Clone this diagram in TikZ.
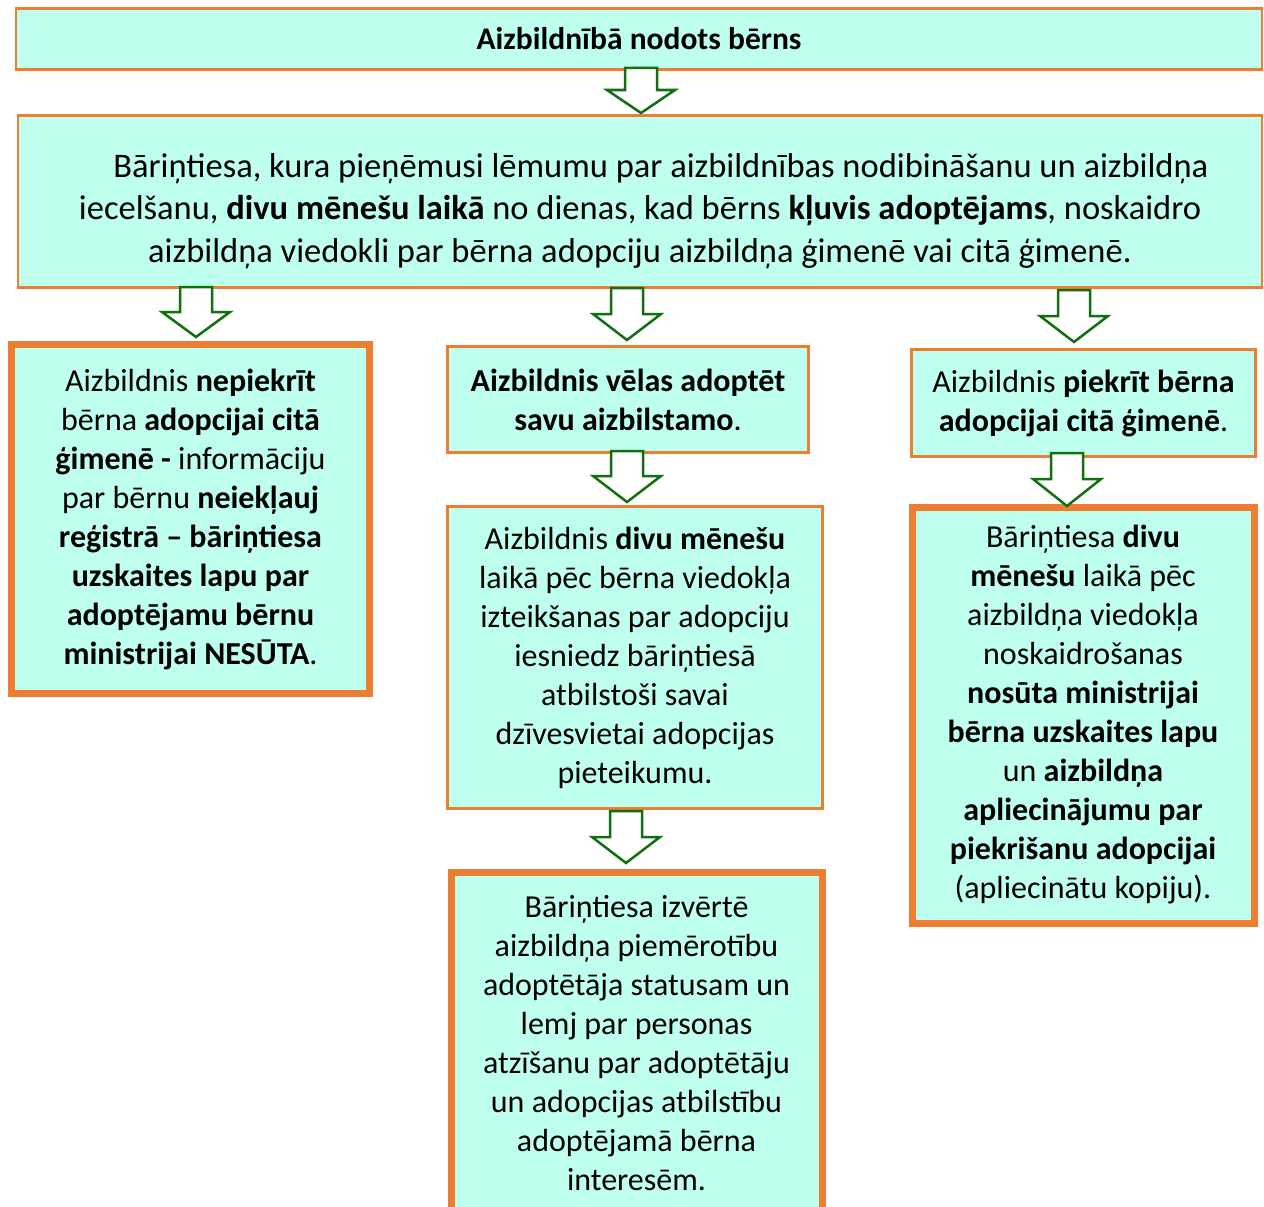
\documentclass[tikz,border=0pt]{standalone}
\usepackage{fontspec}
\setmainfont{Carlito}
\definecolor{boxfill}{RGB}{191,255,240}
\definecolor{boxline}{RGB}{237,125,49}
\definecolor{arrgreen}{RGB}{16,112,16}
\tikzset{
  thinbox/.style={draw=boxline, line width=2.5pt, fill=boxfill, inner sep=0pt, align=center},
  thickbox/.style={draw=boxline, line width=7pt, fill=boxfill, inner sep=0pt, align=center},
  bodytext/.style={font=\fontsize{32}{39}\selectfont},
  blockarrow/.style={draw=arrgreen, fill=white, line width=2.5pt, line join=miter},
}
% \barrow{cx}{top}{headtop}{tip}
\newcommand{\barrow}[4]{%
  \path[blockarrow] (#1-16,#2) -- (#1+16,#2) -- (#1+16,#3) -- (#1+34,#3) -- (#1,#4)
    -- (#1-34,#3) -- (#1-16,#3) -- cycle;}
\begin{document}
\begin{tikzpicture}[x=1pt,y=-1pt]
\path[use as bounding box] (0,0) rectangle (1264,1207);
\clip (0,0) rectangle (1264,1207);

\node[thinbox, minimum width=1246pt, minimum height=61pt,
      font=\fontsize{31.5}{36}\selectfont] (top) at (639,39)
  {\textbf{Aizbildnībā nodots bērns}};

\node[thinbox, minimum width=1244pt, minimum height=172pt] (court) at (640,201.5) {};
\node[align=center, inner sep=0pt, font=\fontsize{34.5}{42.5}\selectfont] (courttext) at (640,211)
  {\hspace*{42pt}Bāriņtiesa, kura pieņēmusi lēmumu par aizbildnības nodibināšanu un aizbildņa\\
   iecelšanu, \textbf{divu mēnešu laikā} no dienas, kad bērns \textbf{kļuvis adoptējams}, noskaidro\\
   aizbildņa viedokli par bērna adopciju aizbildņa ģimenē vai citā ģimenē.};

\node[thickbox, bodytext, minimum width=358pt, minimum height=349pt] (left) at (190.5,519)
  {Aizbildnis \textbf{nepiekrīt}\\
   bērna \textbf{adopcijai citā}\\
   \textbf{ģimenē -} informāciju\\
   par bērnu \textbf{neiekļauj}\\
   \textbf{reģistrā – bāriņtiesa}\\
   \textbf{uzskaites lapu par}\\
   \textbf{adoptējamu bērnu}\\
   \textbf{ministrijai NESŪTA}.};

\node[thinbox, bodytext, minimum width=361pt, minimum height=106pt] (wants) at (628,399.5)
  {\textbf{Aizbildnis vēlas adoptēt}\\
   \textbf{savu aizbilstamo}.};

\node[thinbox, bodytext, minimum width=375pt, minimum height=302pt] (apply) at (635,657.5)
  {Aizbildnis \textbf{divu mēnešu}\\
   laikā pēc bērna viedokļa\\
   izteikšanas par adopciju\\
   iesniedz bāriņtiesā\\
   atbilstoši savai\\
   dzīvesvietai adopcijas\\
   pieteikumu.};

\node[thickbox, bodytext, minimum width=371pt, minimum height=343pt] (assess) at (636.5,1043.5)
  {Bāriņtiesa izvērtē\\
   aizbildņa piemērotību\\
   adoptētāja statusam un\\
   lemj par personas\\
   atzīšanu par adoptētāju\\
   un adopcijas atbilstību\\
   adoptējamā bērna\\
   interesēm.};

\node[thinbox, bodytext, minimum width=344pt, minimum height=107pt] (agrees) at (1083.5,403)
  {Aizbildnis \textbf{piekrīt bērna}\\
   \textbf{adopcijai citā ģimenē}.};

\node[thickbox, bodytext, minimum width=342pt, minimum height=416pt] (sends) at (1083,715)
  {Bāriņtiesa \textbf{divu}\\
   \textbf{mēnešu} laikā pēc\\
   aizbildņa viedokļa\\
   noskaidrošanas\\
   \textbf{nosūta ministrijai}\\
   \textbf{bērna uzskaites lapu}\\
   un \textbf{aizbildņa}\\
   \textbf{apliecinājumu par}\\
   \textbf{piekrišanu adopcijai}\\
   (apliecinātu kopiju).};

% block arrows
\barrow{641}{68}{90}{113}
\barrow{196}{287}{312}{337}
\barrow{627}{288}{314}{340}
\barrow{1074}{290}{316}{342}
\barrow{627}{451}{476}{502}
\barrow{626}{811}{837}{863}
\barrow{1067}{453}{479}{506}
\end{tikzpicture}
\end{document}
